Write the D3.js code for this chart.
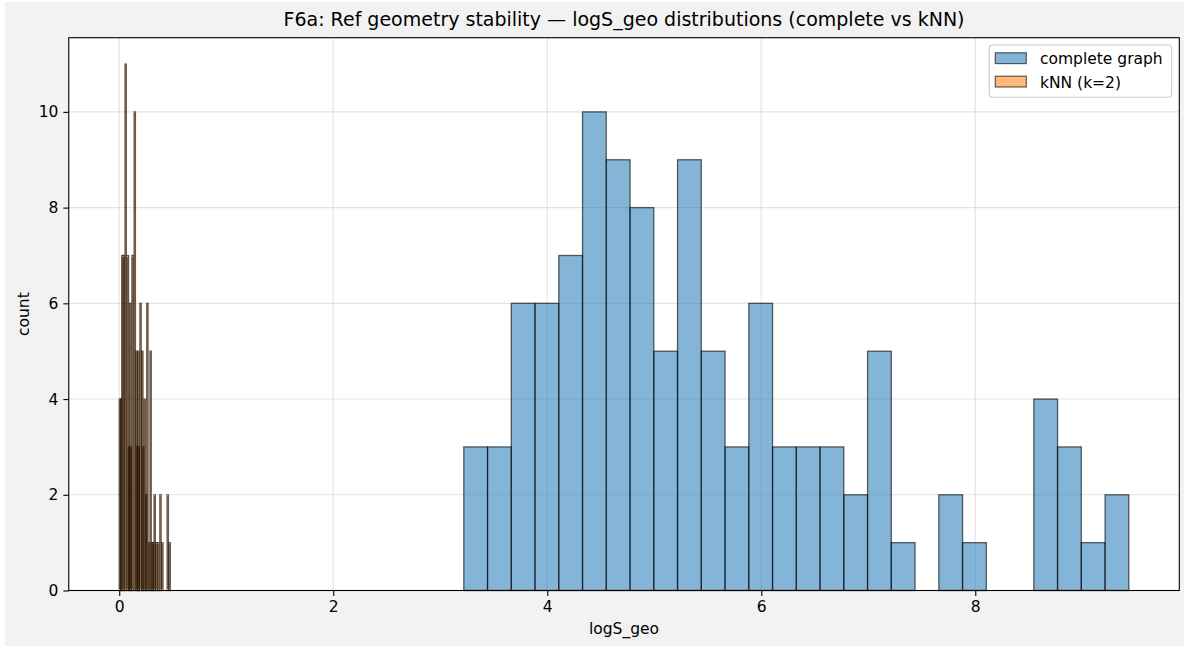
<!DOCTYPE html>
<html>
<head>
<meta charset="utf-8">
<script src="https://cdn.jsdelivr.net/npm/d3@7"></script>
<style>
  html, body { margin: 0; padding: 0; background: #ffffff; }
  svg { display: block; font-family: "DejaVu Sans", sans-serif; }
</style>
</head>
<body>
<svg id="chart" width="1188" height="648"></svg>
<script>
// complete graph: 28 equal bins between these edges
const completeRange = [3.22, 9.435];
const completeCounts = [3, 3, 6, 6, 7, 10, 9, 8, 5, 9, 5, 3, 6, 3, 3, 3, 2, 5, 1, 0, 2, 1, 0, 0, 4, 3, 1, 2];

// kNN (k=2): overlaid narrow bars, left edge and count
const knnBinWidth = 0.0125;
const knnStarts = [0.000, 0.012, 0.023, 0.037, 0.054, 0.075, 0.086, 0.097, 0.103, 0.118,
                   0.139, 0.156, 0.165, 0.173, 0.176, 0.193, 0.210, 0.220, 0.232, 0.248,
                   0.257, 0.276, 0.287, 0.304, 0.313, 0.325, 0.341, 0.358, 0.379, 0.397,
                   0.447, 0.465];
const knnCounts = [4, 4, 7, 7, 11, 7, 3, 6, 3, 7,
                   10, 5, 3, 5, 3, 6, 5, 3, 4, 2,
                   6, 1, 5, 1, 1, 2, 1, 1, 2, 1,
                   2, 1];

const xTicks = [0, 2, 4, 6, 8];
const yTicks = [0, 2, 4, 6, 8, 10];
const seriesNames = ["complete graph", "kNN (k=2)"];
const seriesColors = ["#1f77b4", "#ff7f0e"];

const titleText = "F6a: Ref geometry stability \u2014 logS_geo distributions (complete vs kNN)";
const xLabel = "logS_geo";
const yLabel = "count";

// ---- layout
const W = 1188, H = 648;
const plot = { left: 68.75, right: 1179.3, top: 37.7, bottom: 590.5 };
const fontSize = 15.5;
const alpha = 0.55;

const svg = d3.select("#chart");

// figure background (light grey with thin white border)
svg.append("rect").attr("x", 0).attr("y", 0).attr("width", W).attr("height", H).attr("fill", "#ffffff");
svg.append("rect").attr("x", 5).attr("y", 2).attr("width", 1179).attr("height", 644).attr("fill", "#f2f2f2");
svg.append("rect")
  .attr("x", plot.left).attr("y", plot.top)
  .attr("width", plot.right - plot.left).attr("height", plot.bottom - plot.top)
  .attr("fill", "#ffffff");

// bins for the complete graph
const binW = (completeRange[1] - completeRange[0]) / completeCounts.length;
const completeBins = completeCounts.map((c, i) => ({
  x0: completeRange[0] + i * binW,
  x1: completeRange[0] + (i + 1) * binW,
  count: c
}));
const knnBins = knnStarts.map((s, i) => ({ x0: s, x1: s + knnBinWidth, count: knnCounts[i] }));

// scales with matplotlib-like 5% margins
const xMin = 0, xMax = completeRange[1];
const xPad = (xMax - xMin) * 0.05;
const x = d3.scaleLinear().domain([xMin - xPad, xMax + xPad]).range([plot.left, plot.right]);
const yMax = d3.max(knnCounts.concat(completeCounts));
const y = d3.scaleLinear().domain([0, yMax * 1.05]).range([plot.bottom, plot.top]);

// grid
const grid = svg.append("g").attr("class", "grid");
grid.selectAll("line.gx").data(xTicks).enter().append("line")
  .attr("x1", d => x(d)).attr("x2", d => x(d))
  .attr("y1", plot.top).attr("y2", plot.bottom)
  .attr("stroke", "#b0b0b0").attr("stroke-opacity", 0.35).attr("stroke-width", 1.1);
grid.selectAll("line.gy").data(yTicks).enter().append("line")
  .attr("x1", plot.left).attr("x2", plot.right)
  .attr("y1", d => y(d)).attr("y2", d => y(d))
  .attr("stroke", "#b0b0b0").attr("stroke-opacity", 0.35).attr("stroke-width", 1.1);

// bars
function drawBars(bins, color, cls, sw, so) {
  svg.append("g").attr("class", cls)
    .selectAll("rect")
    .data(bins.filter(d => d.count > 0))
    .enter()
    .append("rect")
    .attr("x", d => x(d.x0))
    .attr("y", d => y(d.count))
    .attr("width", d => x(d.x1) - x(d.x0))
    .attr("height", d => y(0) - y(d.count))
    .attr("fill", color).attr("fill-opacity", alpha)
    .attr("stroke", "#000000").attr("stroke-opacity", so)
    .attr("stroke-width", sw);
}
drawBars(completeBins, seriesColors[0], "complete", 1.3, 0.6);
drawBars(knnBins, seriesColors[1], "knn", 1.3, 0.6);

// axes
const xAxis = d3.axisBottom(x).tickValues(xTicks).tickFormat(d3.format("d"))
  .tickSizeInner(5.4).tickSizeOuter(0).tickPadding(5);
const yAxis = d3.axisLeft(y).tickValues(yTicks).tickFormat(d3.format("d"))
  .tickSizeInner(5.4).tickSizeOuter(0).tickPadding(5);

const gx = svg.append("g").attr("transform", `translate(0,${plot.bottom})`).call(xAxis);
const gy = svg.append("g").attr("transform", `translate(${plot.left},0)`).call(yAxis);
[gx, gy].forEach(g => {
  g.select(".domain").remove();
  g.selectAll(".tick line").attr("stroke", "#000").attr("stroke-width", 1.1);
  g.selectAll(".tick text").attr("fill", "#000").style("font-size", fontSize + "px")
    .style("font-family", "DejaVu Sans");
});

// frame
svg.append("rect")
  .attr("x", plot.left).attr("y", plot.top)
  .attr("width", plot.right - plot.left).attr("height", plot.bottom - plot.top)
  .attr("fill", "none").attr("stroke", "#000").attr("stroke-width", 1.1);

// labels
const cx = (plot.left + plot.right) / 2;
svg.append("text").attr("x", cx).attr("y", 26)
  .attr("text-anchor", "middle").style("font-size", "19px").text(titleText);
svg.append("text").attr("x", cx).attr("y", 634)
  .attr("text-anchor", "middle").style("font-size", fontSize + "px").text(xLabel);
svg.append("text")
  .attr("transform", `translate(29,${(plot.top + plot.bottom) / 2}) rotate(-90)`)
  .attr("text-anchor", "middle").style("font-size", fontSize + "px").text(yLabel);

// legend
const lg = svg.append("g").attr("transform", "translate(989.3,45)");
lg.append("rect").attr("width", 182.4).attr("height", 52.3).attr("rx", 3)
  .attr("fill", "#ffffff").attr("fill-opacity", 0.8)
  .attr("stroke", "#cccccc").attr("stroke-width", 1.1);
seriesNames.forEach((name, i) => {
  const row = lg.append("g").attr("transform", `translate(0,${i * 23.4})`);
  row.append("rect").attr("x", 6).attr("y", 7.8).attr("width", 31).attr("height", 10.8)
    .attr("fill", seriesColors[i]).attr("fill-opacity", alpha)
    .attr("stroke", "#000").attr("stroke-opacity", 0.6).attr("stroke-width", 1.2);
  row.append("text").attr("x", 50.7).attr("y", 19.2)
    .style("font-size", fontSize + "px").text(name);
});
</script>
</body>
</html>
